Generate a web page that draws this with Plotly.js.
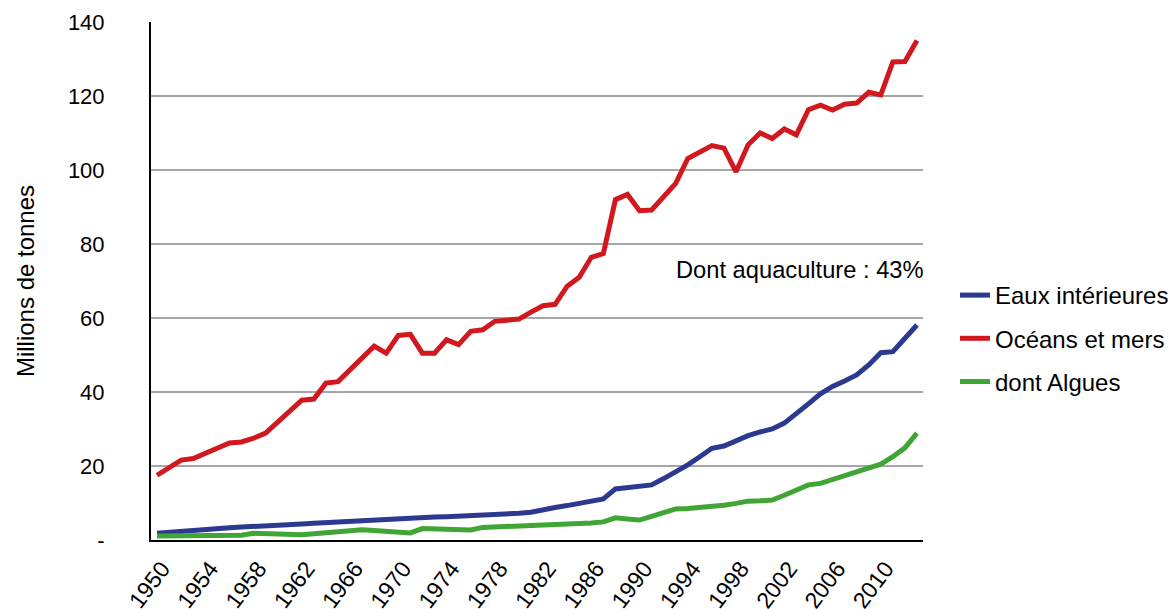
<!DOCTYPE html>
<html>
<head>
<meta charset="utf-8">
<script src="https://cdn.plot.ly/plotly-3.0.1.min.js"></script>
<style>
html,body{margin:0;padding:0;background:#fff;}
#chart{width:1173px;height:609px;}
</style>
</head>
<body>
<div id="chart"></div>
<script>
const years = [];
for (let y = 1950; y <= 2013; y++) years.push(y);

const eauxInterieures = [1.8,2.1,2.4,2.7,2.9,3.1,3.3,3.5,3.6,3.8,
  4.0,4.1,4.3,4.5,4.7,4.9,5.1,5.3,5.4,5.6,
  5.7,5.9,6.0,6.2,6.3,6.4,6.5,6.7,6.8,7.0,
  7.2,7.5,8.3,8.8,9.3,9.9,10.5,11.1,13.8,14.2,
  14.5,14.9,16.6,18.4,20.3,22.5,24.8,25.4,26.8,28.2,
  29.2,30.0,31.6,34.0,36.8,39.5,41.5,43.0,44.6,47.3,
  50.6,50.9,54.5,58.1];

const oceansEtMers = [17.5,19.6,21.6,22.0,23.5,24.9,26.2,26.5,27.5,28.9,
  31.9,34.9,37.8,38.1,42.4,42.8,45.9,49.2,52.4,50.5,
  55.3,55.6,50.5,50.5,54.1,52.8,56.4,56.8,59.1,59.4,
  59.7,61.6,63.3,63.7,68.6,71.0,76.4,77.4,92.0,93.4,
  89.0,89.2,92.7,96.4,103.1,104.9,106.6,105.9,99.5,106.8,
  110.0,108.5,111.1,109.5,116.3,117.5,116.2,117.8,118.1,121.0,
  120.3,129.2,129.3,135.0];

const dontAlgues = [1.1,1.1,1.1,1.1,1.2,1.2,1.2,1.3,1.8,1.7,
  1.6,1.5,1.4,1.7,2.0,2.2,2.5,2.8,2.6,2.3,
  2.1,1.9,3.1,3.0,2.9,2.8,2.7,3.4,3.5,3.6,
  3.7,3.8,3.9,4.1,4.3,4.5,4.6,4.9,6.0,5.7,
  5.4,6.4,7.4,8.4,8.5,8.7,8.9,9.4,9.9,10.5,
  10.6,10.8,12.1,13.5,14.9,15.3,16.4,17.5,18.6,19.6,
  20.5,22.5,24.9,28.9];

const xTickVals = [1950,1954,1958,1962,1966,1970,1974,1978,1982,1986,1990,1994,1998,2002,2006,2010];
const yTickVals = [0,20,40,60,80,100,120,140];
const yTickText = ['-','20','40','60','80','100','120','140'];

const seriesNames = ['Eaux intérieures','Océans et mers','dont Algues'];
const seriesColors = ['#2b3990','#d2181f','#3fa535'];
const seriesData = [eauxInterieures, oceansEtMers, dontAlgues];

const font = 'Liberation Sans, Arial, Helvetica, sans-serif';

const traces = seriesData.map((d, i) => ({
  x: years, y: d, type: 'scatter', mode: 'lines',
  name: seriesNames[i], legendgroup: 'g' + i,
  line: {color: seriesColors[i], width: 5},
  hoverinfo: 'skip'
}));

const layout = {
  width: 1173, height: 609,
  margin: {l: 151, r: 250, t: 22, b: 69},
  paper_bgcolor: '#fff', plot_bgcolor: '#fff',
  font: {family: font, color: '#000', size: 24},
  showlegend: true,
  legend: {
    xref: 'container', yref: 'container',
    x: 955 / 1173, xanchor: 'left', y: 1 - 273 / 609, yanchor: 'top',
    traceorder: 'grouped', tracegroupgap: 9,
    font: {family: font, size: 24, color: '#000'},
    bgcolor: 'rgba(0,0,0,0)'
  },
  xaxis: {
    range: [1949.5, 2013.5], type: 'linear',
    tickmode: 'array', tickvals: xTickVals,
    tickangle: -53,
    tickfont: {family: font, size: 23, color: '#000'},
    ticklabelshift: 5,
    showgrid: false, zeroline: false,
    showline: true, linecolor: '#000', linewidth: 2,
    ticks: 'outside', ticklen: 4, tickcolor: 'rgba(0,0,0,0)',
    automargin: false,
    fixedrange: true
  },
  yaxis: {
    range: [0, 140],
    tickmode: 'array', tickvals: yTickVals, ticktext: yTickText,
    tickfont: {family: font, size: 22, color: '#000'},
    showgrid: true, gridcolor: '#a6a6a6', gridwidth: 2,
    zeroline: false,
    showline: true, linecolor: '#000', linewidth: 2,
    ticks: 'outside', ticklen: 40, tickcolor: 'rgba(0,0,0,0)',
    automargin: false,
    title: {text: 'Millions de tonnes', font: {family: font, size: 24, color: '#000'}, standoff: 26},
    fixedrange: true
  },
  annotations: [{
    xref: 'paper', yref: 'y', x: 1, y: 73, xanchor: 'right', yanchor: 'middle',
    xshift: 3,
    text: 'Dont aquaculture : 43%', showarrow: false,
    font: {family: font, size: 23.7, color: '#000'}
  }]
};

Plotly.newPlot('chart', traces, layout, {displayModeBar: false, staticPlot: true});
</script>
</body>
</html>
